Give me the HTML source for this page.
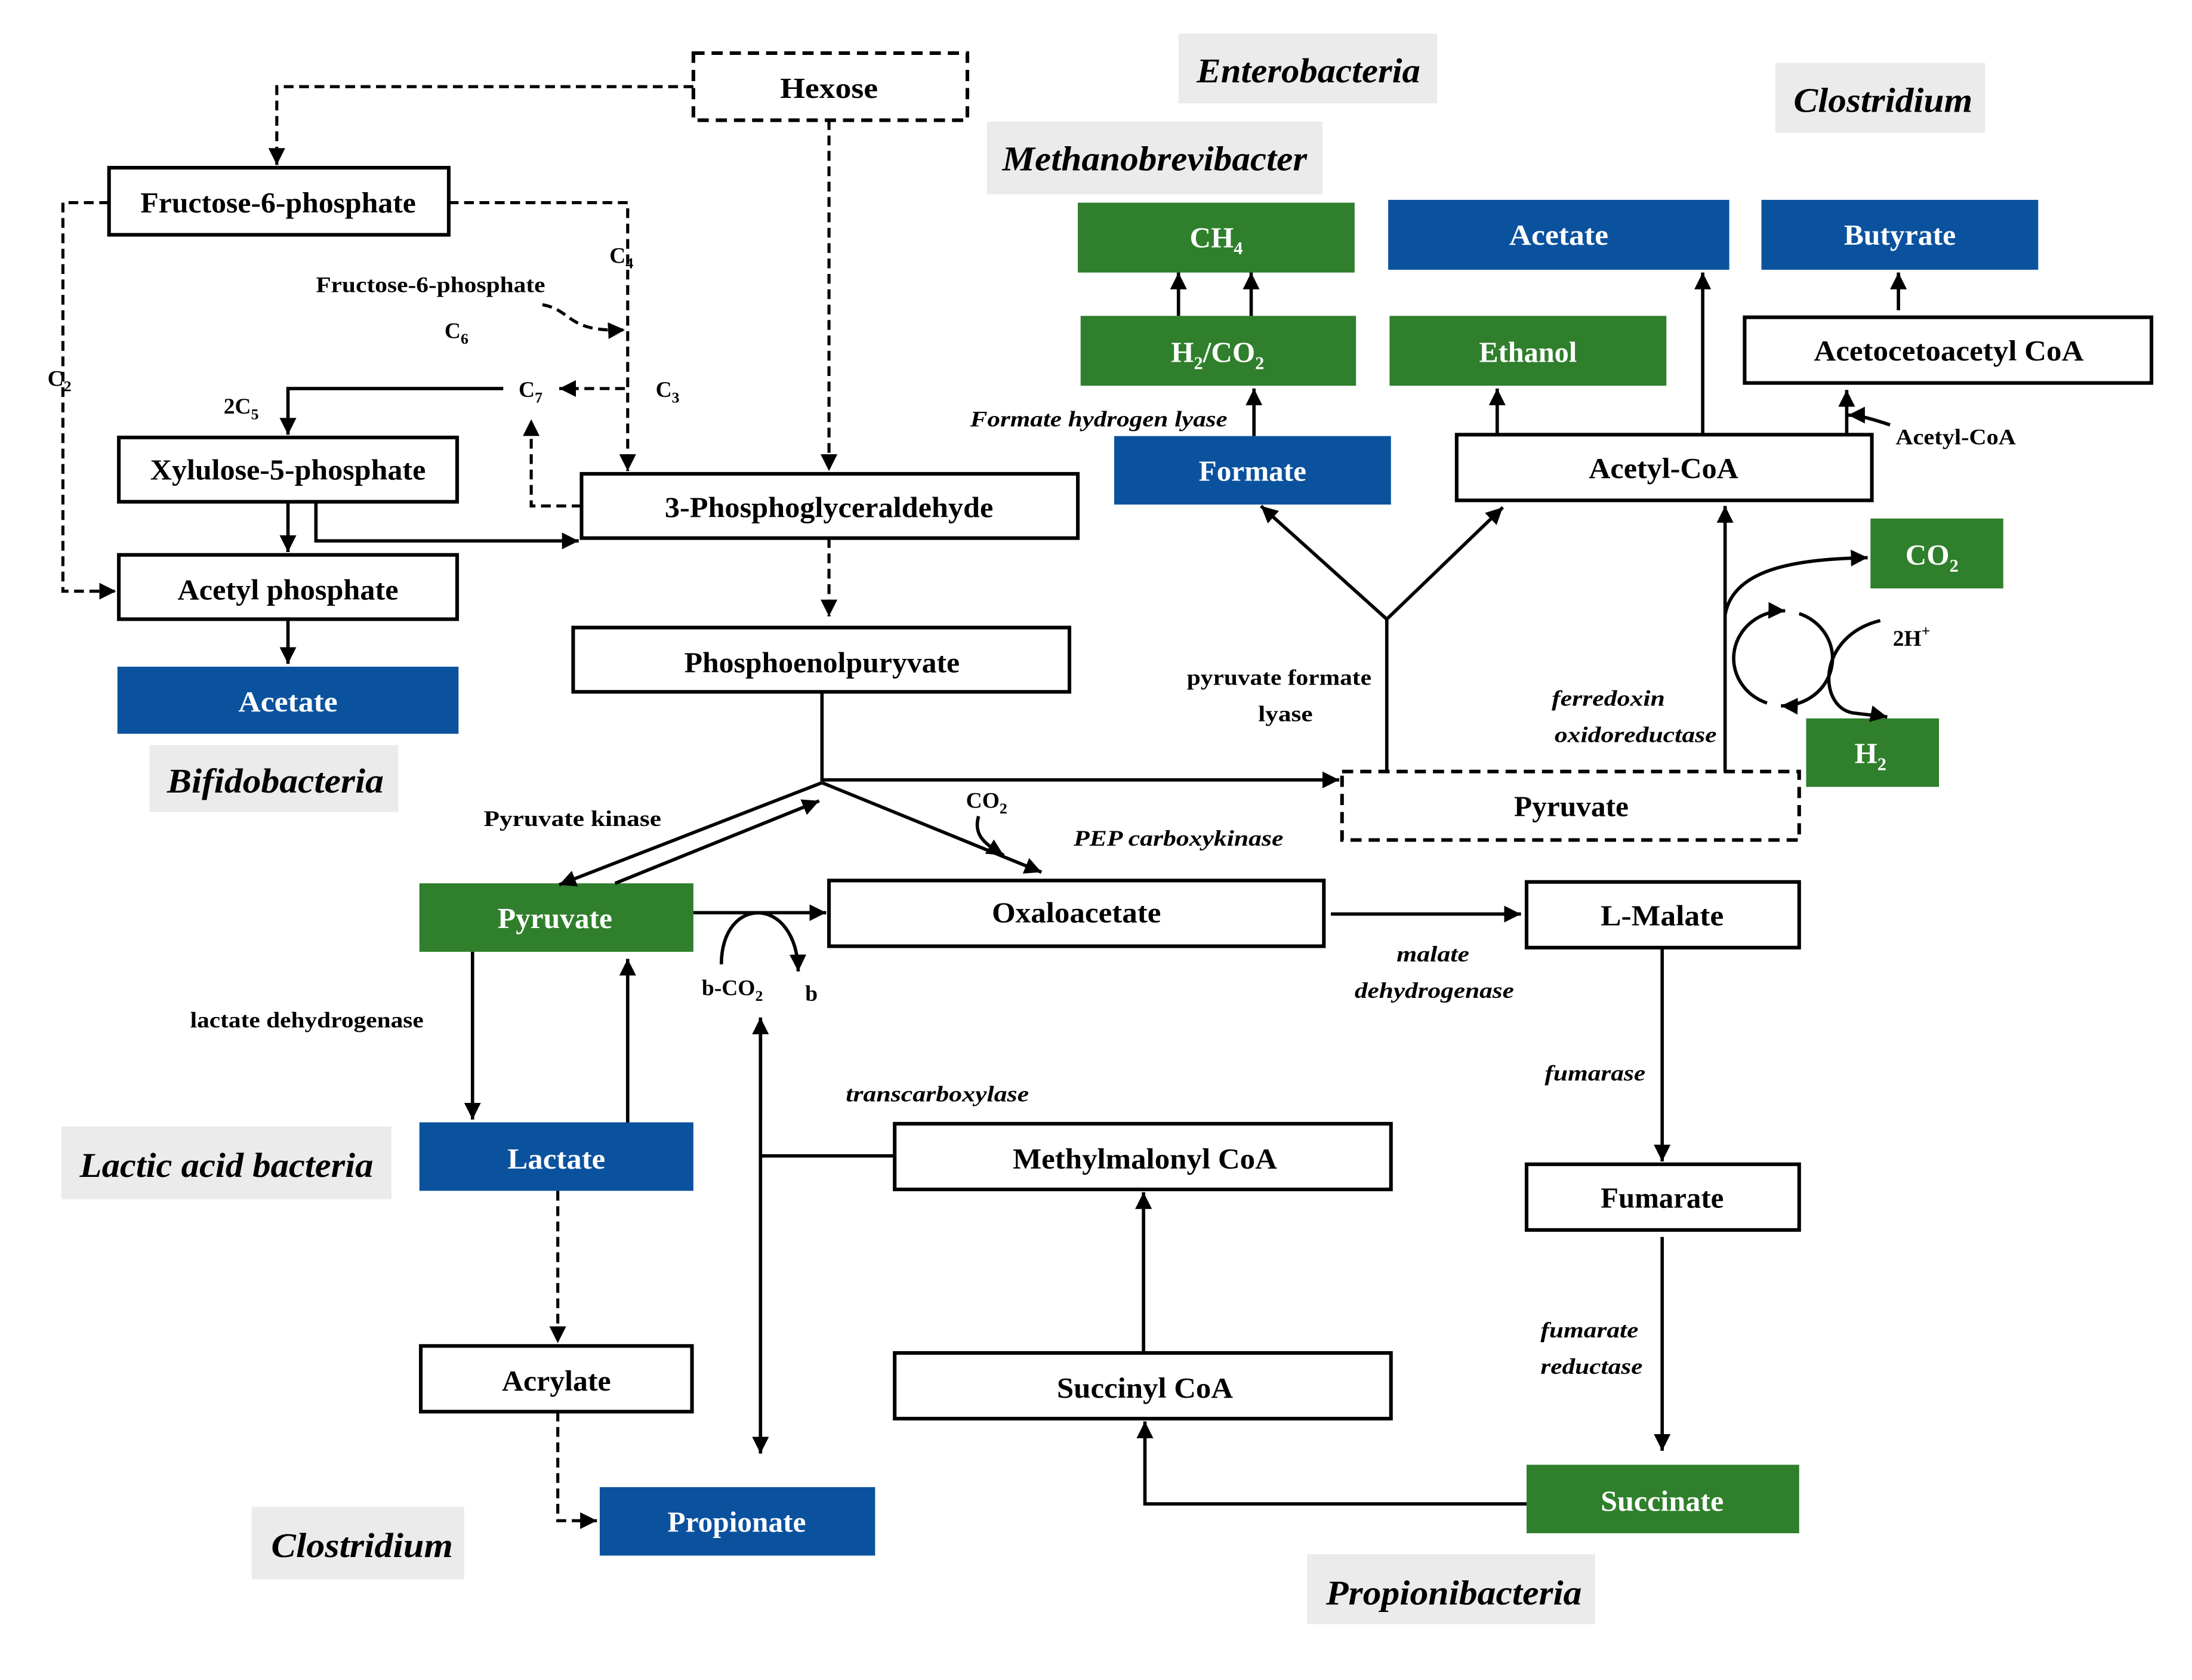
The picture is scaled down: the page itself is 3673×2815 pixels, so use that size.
<!DOCTYPE html>
<html><head><meta charset="utf-8"><style>
html,body{margin:0;padding:0;background:#fff;}
svg{display:block;}
text{font-family:"Liberation Serif",serif;font-weight:bold;}
.bx{font-size:21px;text-anchor:middle;}
.w{fill:#fff;}
.it{font-style:italic;}
.sm{font-size:16px;}
.lbl{font-size:25px;font-style:italic;text-anchor:middle;}
</style></head><body>
<svg width="3673" height="2815" viewBox="0 0 1568 1202" preserveAspectRatio="none" xmlns="http://www.w3.org/2000/svg">
<defs>
<marker id="a" markerUnits="userSpaceOnUse" markerWidth="14" markerHeight="12" refX="12" refY="6" orient="auto"><path d="M0,0 L12,6 L0,12 z" fill="#000"/></marker>
</defs>
<rect width="1568" height="1202" fill="#fff"/>

<g fill="#ebebeb">
<rect x="107" y="533" width="178" height="48"/>
<rect x="843" y="24" width="185" height="50"/>
<rect x="706" y="87" width="240" height="52"/>
<rect x="1270" y="45" width="150" height="50"/>
<rect x="44" y="806" width="236" height="52"/>
<rect x="180" y="1078" width="152" height="52"/>
<rect x="935" y="1112" width="206" height="50"/>
</g>

<g fill="#2f7f2c">
<rect x="771" y="145" width="198" height="50"/>
<rect x="773" y="226" width="197" height="50"/>
<rect x="994" y="226" width="198" height="50"/>
<rect x="1338" y="371" width="95" height="50"/>
<rect x="1292" y="514" width="95" height="49"/>
<rect x="300" y="632" width="196" height="49"/>
<rect x="1092" y="1048" width="195" height="49"/>
</g>
<g fill="#0b529e">
<rect x="84" y="477" width="244" height="48"/>
<rect x="993" y="143" width="244" height="50"/>
<rect x="1260" y="143" width="198" height="50"/>
<rect x="797" y="312" width="198" height="49"/>
<rect x="300" y="803" width="196" height="49"/>
<rect x="429" y="1064" width="197" height="49"/>
</g>

<g fill="#fff" stroke="#000" stroke-width="2.6">
<rect x="78" y="120" width="243" height="48"/>
<rect x="85" y="313" width="242" height="46"/>
<rect x="85" y="397" width="242" height="46"/>
<rect x="416" y="339" width="355" height="46"/>
<rect x="410" y="449" width="355" height="46"/>
<rect x="1248" y="227" width="291" height="47"/>
<rect x="1042" y="311" width="297" height="47"/>
<rect x="593" y="630" width="354" height="47"/>
<rect x="1092" y="631" width="195" height="47"/>
<rect x="640" y="804" width="355" height="47"/>
<rect x="1092" y="833" width="195" height="47"/>
<rect x="301" y="963" width="194" height="47"/>
<rect x="640" y="968" width="355" height="47"/>
</g>
<g fill="#fff" stroke="#000" stroke-width="2.6" stroke-dasharray="8,5">
<rect x="496" y="38" width="196" height="48"/>
<rect x="960" y="552" width="327" height="49"/>
</g>

<g fill="none" stroke="#000" stroke-width="2.2" stroke-dasharray="7,4">
<path d="M496,62 H198 V118" marker-end="url(#a)"/>
<path d="M593,86 V337" marker-end="url(#a)"/>
<path d="M321,145 H449 V337" marker-end="url(#a)"/>
<path d="M78,145 H45 V423 H83" marker-end="url(#a)"/>
<path d="M388,218 C410,222 405,238 447,236" marker-end="url(#a)"/>
<path d="M447,278 H400" marker-end="url(#a)"/>
<path d="M416,362 H380 V300" marker-end="url(#a)"/>
<path d="M593,385 V441" marker-end="url(#a)"/>
<path d="M399,852 V961" marker-end="url(#a)"/>
<path d="M399,1010 V1088 H427" marker-end="url(#a)"/>
</g>

<g fill="none" stroke="#000" stroke-width="2.4">
<path d="M360,278 H206 V311" marker-end="url(#a)"/>
<path d="M206,359 V395" marker-end="url(#a)"/>
<path d="M226,359 V387 H414" marker-end="url(#a)"/>
<path d="M206,443 V475" marker-end="url(#a)"/>
<path d="M588,495 V558 H958" marker-end="url(#a)"/>
<path d="M588,560 L400,633" marker-end="url(#a)"/>
<path d="M440,632 L586,573" marker-end="url(#a)"/>
<path d="M588,560 L745,624" marker-end="url(#a)"/>
<path d="M700,584 C696,598 705,604 718,612" marker-end="url(#a)"/>
<path d="M496,653 H591" marker-end="url(#a)"/>
<path d="M516,690 C516,640 570,640 571,695" marker-end="url(#a)"/>
<path d="M952,654 H1088" marker-end="url(#a)"/>
<path d="M1189,678 V831" marker-end="url(#a)"/>
<path d="M1189,885 V1038" marker-end="url(#a)"/>
<path d="M1092,1076 H819 V1017" marker-end="url(#a)"/>
<path d="M818,968 V853" marker-end="url(#a)"/>
<path d="M640,827 H544"/>
<path d="M544,740 V1040" marker-end="url(#a)"/>
<path d="M544,800 V728" marker-end="url(#a)"/>
<path d="M338,681 V801" marker-end="url(#a)"/>
<path d="M449,803 V686" marker-end="url(#a)"/>
<path d="M992,552 V443"/>
<path d="M992,443 L902,362" marker-end="url(#a)"/>
<path d="M992,443 L1075,363" marker-end="url(#a)"/>
<path d="M897,312 V278" marker-end="url(#a)"/>
<path d="M843,226 V195" marker-end="url(#a)"/>
<path d="M895,226 V195" marker-end="url(#a)"/>
<path d="M1071,311 V278" marker-end="url(#a)"/>
<path d="M1218,311 V195" marker-end="url(#a)"/>
<path d="M1321,311 V279" marker-end="url(#a)"/>
<path d="M1352,304 C1340,300 1330,297 1322,297" marker-end="url(#a)"/>
<path d="M1358,222 V195" marker-end="url(#a)"/>
<path d="M1234,552 V362" marker-end="url(#a)"/>
<path d="M1234,440 C1240,405 1290,400 1336,399" marker-end="url(#a)"/>
<path d="M1264,503 A36,34 0 0 1 1277,437" marker-end="url(#a)"/>
<path d="M1287,439 A36,34 0 0 1 1274,505" marker-end="url(#a)"/>
<path d="M1345,444 C1300,455 1300,505 1325,510 C1340,512 1345,512 1350,513" marker-end="url(#a)"/>
</g>

<g class="bx">
<text x="593" y="70" textLength="70" lengthAdjust="spacingAndGlyphs">Hexose</text>
<text x="199" y="152" textLength="197" lengthAdjust="spacingAndGlyphs">Fructose-6-phosphate</text>
<text x="206" y="343" textLength="197" lengthAdjust="spacingAndGlyphs">Xylulose-5-phosphate</text>
<text x="206" y="429" textLength="158" lengthAdjust="spacingAndGlyphs">Acetyl phosphate</text>
<text class="w" x="206" y="509" textLength="71" lengthAdjust="spacingAndGlyphs">Acetate</text>
<text x="593" y="370" textLength="235" lengthAdjust="spacingAndGlyphs">3-Phosphoglyceraldehyde</text>
<text x="588" y="481" textLength="197" lengthAdjust="spacingAndGlyphs">Phosphoenolpuryvate</text>
<text class="w" x="870" y="177">CH<tspan font-size="13" dy="5">4</tspan></text>
<text class="w" x="871" y="259">H<tspan font-size="13" dy="5">2</tspan><tspan dy="-5">/CO</tspan><tspan font-size="13" dy="5">2</tspan></text>
<text class="w" x="1093" y="259" textLength="70" lengthAdjust="spacingAndGlyphs">Ethanol</text>
<text class="w" x="1115" y="175" textLength="71" lengthAdjust="spacingAndGlyphs">Acetate</text>
<text class="w" x="1359" y="175" textLength="80" lengthAdjust="spacingAndGlyphs">Butyrate</text>
<text x="1394" y="258" textLength="193" lengthAdjust="spacingAndGlyphs">Acetocetoacetyl CoA</text>
<text class="w" x="896" y="344" textLength="77" lengthAdjust="spacingAndGlyphs">Formate</text>
<text x="1190" y="342" textLength="107" lengthAdjust="spacingAndGlyphs">Acetyl-CoA</text>
<text class="w" x="1382" y="404">CO<tspan font-size="13" dy="5">2</tspan></text>
<text class="w" x="1338" y="546">H<tspan font-size="13" dy="5">2</tspan></text>
<text x="1124" y="584" textLength="82" lengthAdjust="spacingAndGlyphs">Pyruvate</text>
<text class="w" x="397" y="664" textLength="82" lengthAdjust="spacingAndGlyphs">Pyruvate</text>
<text x="770" y="660" textLength="121" lengthAdjust="spacingAndGlyphs">Oxaloacetate</text>
<text x="1189" y="662" textLength="88" lengthAdjust="spacingAndGlyphs">L-Malate</text>
<text class="w" x="398" y="836" textLength="70" lengthAdjust="spacingAndGlyphs">Lactate</text>
<text x="819" y="836" textLength="189" lengthAdjust="spacingAndGlyphs">Methylmalonyl CoA</text>
<text x="1189" y="864" textLength="88" lengthAdjust="spacingAndGlyphs">Fumarate</text>
<text x="398" y="995" textLength="78" lengthAdjust="spacingAndGlyphs">Acrylate</text>
<text x="819" y="1000" textLength="126" lengthAdjust="spacingAndGlyphs">Succinyl CoA</text>
<text class="w" x="1189" y="1081" textLength="88" lengthAdjust="spacingAndGlyphs">Succinate</text>
<text class="w" x="527" y="1096" textLength="99" lengthAdjust="spacingAndGlyphs">Propionate</text>
</g>

<g class="lbl">
<text x="197" y="567" textLength="155" lengthAdjust="spacingAndGlyphs">Bifidobacteria</text>
<text x="936" y="59" textLength="160" lengthAdjust="spacingAndGlyphs">Enterobacteria</text>
<text x="826" y="122" textLength="218" lengthAdjust="spacingAndGlyphs">Methanobrevibacter</text>
<text x="1347" y="80" textLength="128" lengthAdjust="spacingAndGlyphs">Clostridium</text>
<text x="162" y="842" textLength="210" lengthAdjust="spacingAndGlyphs">Lactic acid bacteria</text>
<text x="259" y="1114" textLength="130" lengthAdjust="spacingAndGlyphs">Clostridium</text>
<text x="1040" y="1148" textLength="183" lengthAdjust="spacingAndGlyphs">Propionibacteria</text>
</g>

<g class="sm">
<text x="226" y="209" textLength="164" lengthAdjust="spacingAndGlyphs">Fructose-6-phosphate</text>
<text x="436" y="188">C<tspan font-size="11" dy="4">4</tspan></text>
<text x="318" y="242">C<tspan font-size="11" dy="4">6</tspan></text>
<text x="34" y="276">C<tspan font-size="11" dy="4">2</tspan></text>
<text x="371" y="284">C<tspan font-size="11" dy="4">7</tspan></text>
<text x="469" y="284">C<tspan font-size="11" dy="4">3</tspan></text>
<text x="160" y="296">2C<tspan font-size="11" dy="4">5</tspan></text>
<text x="346" y="591" textLength="127" lengthAdjust="spacingAndGlyphs">Pyruvate  kinase</text>
<text x="136" y="735" textLength="167" lengthAdjust="spacingAndGlyphs">lactate dehydrogenase</text>
<text x="691" y="578">CO<tspan font-size="11" dy="4">2</tspan></text>
<text class="it" x="768" y="605" textLength="150" lengthAdjust="spacingAndGlyphs">PEP carboxykinase</text>
<text x="502" y="712">b-CO<tspan font-size="11" dy="4">2</tspan></text>
<text x="576" y="716">b</text>
<text class="it" x="999" y="688" textLength="52" lengthAdjust="spacingAndGlyphs">malate</text>
<text class="it" x="969" y="714" textLength="114" lengthAdjust="spacingAndGlyphs">dehydrogenase</text>
<text class="it" x="1105" y="773" textLength="72" lengthAdjust="spacingAndGlyphs">fumarase</text>
<text class="it" x="1102" y="957" textLength="70" lengthAdjust="spacingAndGlyphs">fumarate</text>
<text class="it" x="1102" y="983" textLength="73" lengthAdjust="spacingAndGlyphs">reductase</text>
<text class="it" x="605" y="788" textLength="131" lengthAdjust="spacingAndGlyphs">transcarboxylase</text>
<text x="849" y="490" textLength="132" lengthAdjust="spacingAndGlyphs">pyruvate  formate</text>
<text x="900" y="516" textLength="39" lengthAdjust="spacingAndGlyphs">lyase</text>
<text class="it" x="694" y="305" textLength="184" lengthAdjust="spacingAndGlyphs">Formate hydrogen lyase</text>
<text class="it" x="1110" y="505" textLength="81" lengthAdjust="spacingAndGlyphs">ferredoxin</text>
<text class="it" x="1112" y="531" textLength="116" lengthAdjust="spacingAndGlyphs">oxidoreductase</text>
<text x="1356" y="318" textLength="86" lengthAdjust="spacingAndGlyphs">Acetyl-CoA</text>
<text x="1354" y="462">2H<tspan font-size="11" dy="-7">+</tspan></text>
</g>
</svg>
</body></html>
